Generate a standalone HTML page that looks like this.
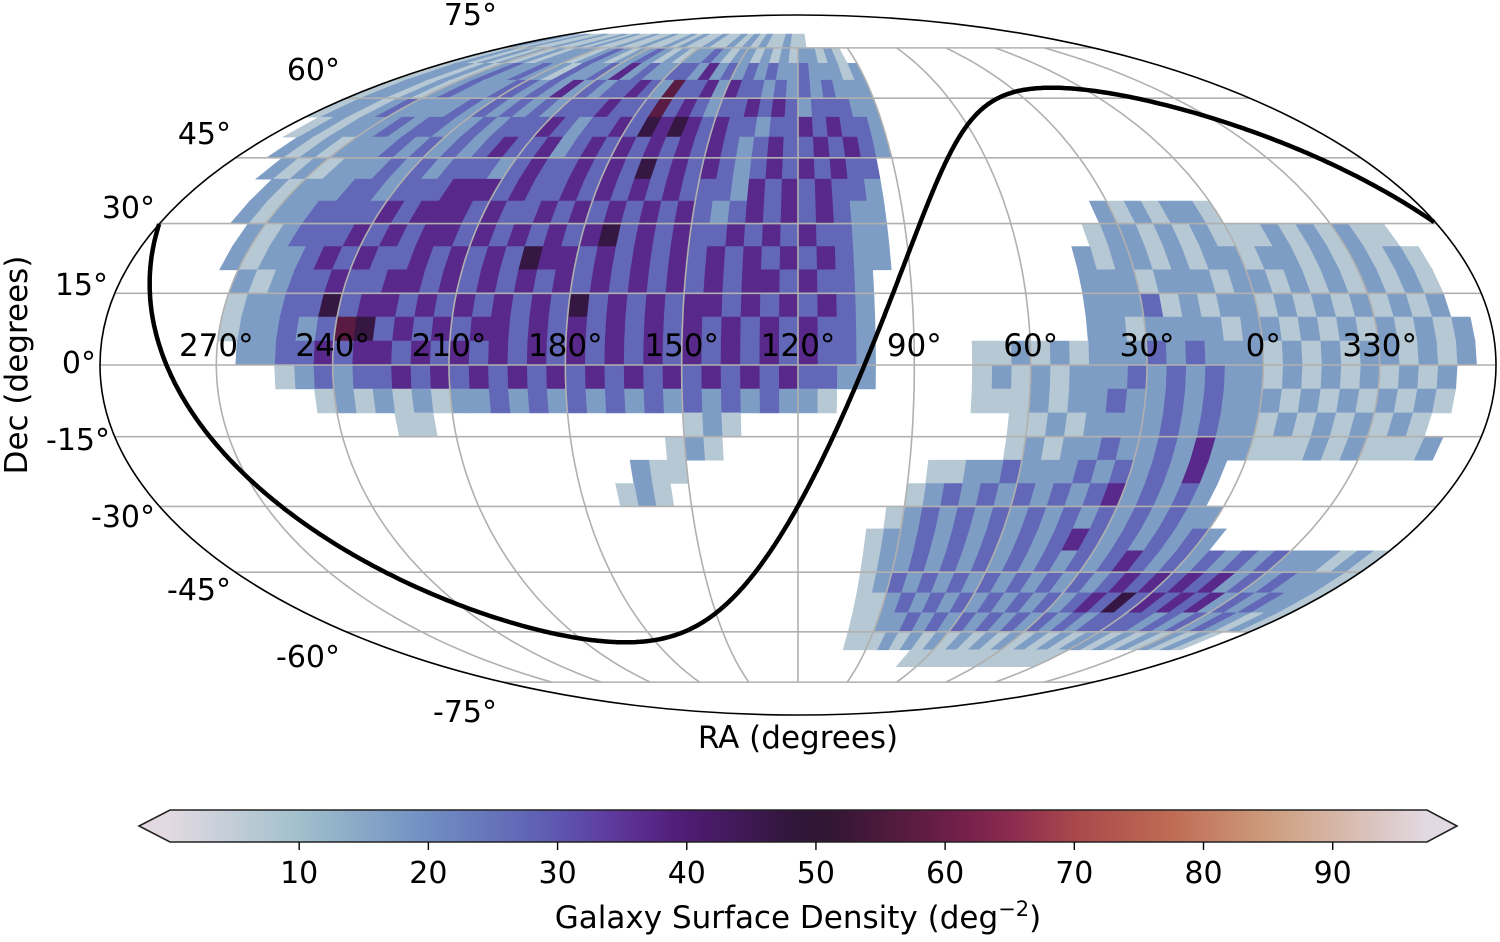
<!DOCTYPE html>
<html>
<head>
<meta charset="utf-8">
<style>
html,body{margin:0;padding:0;background:#fff;}
body{width:1500px;height:937px;overflow:hidden;font-family:"Liberation Sans","DejaVu Sans",sans-serif;}
svg text{font-family:"DejaVu Sans","Liberation Sans",sans-serif;fill:#000;}
</style>
</head>
<body>
<svg id="chart" width="1500" height="937" viewBox="0 0 1500 937" xmlns="http://www.w3.org/2000/svg">
  <defs>
    <clipPath id="ellclip"><ellipse cx="798" cy="365" rx="698" ry="350"/></clipPath>
    <linearGradient id="cbgrad" x1="0" x2="1" y1="0" y2="0"></linearGradient>
  </defs>
  <g id="cells" clip-path="url(#ellclip)"></g>
  <g id="grid" clip-path="url(#ellclip)"></g>
  <path id="galplane" fill="none" stroke="#000" stroke-width="4.5"/>
  <ellipse cx="798" cy="365" rx="698" ry="350" fill="none" stroke="#000" stroke-width="1.6"/>
  <g id="ralabels" font-size="31"></g>
  <g id="declabels" font-size="30"></g>
  <text x="798" y="748" text-anchor="middle" font-size="31">RA (degrees)</text>
  <text transform="translate(27,365) rotate(-90)" text-anchor="middle" font-size="31">Dec (degrees)</text>
  <g id="colorbar"></g>
  <text x="798" y="928" text-anchor="middle" font-size="31">Galaxy Surface Density (deg<tspan dy="-12" font-size="21">−2</tspan><tspan dy="12">)</tspan></text>
</svg>
<script>
// ---------- data ----------
const raStep = 5;          // RA cell width (deg)
const decStep = 5;         // Dec cell height (deg)
const decCenters = [77.5,72.5,67.5,62.5,57.5,52.5,47.5,42.5,37.5,32.5,27.5,22.5,17.5,12.5,7.5,2.5,-2.5,-7.5,-12.5,-17.5,-22.5,-27.5,-32.5,-37.5,-42.5,-47.5,-52.5,-57.5,-62.5,-67.5];
// one char per RA cell (RA 0..360), '.' = no data, digit d = density level (~10*d deg^-2)
const D = n => '.'.repeat(n);
const densityRows = [
 D(23)+"1121121212"+"1121121211"+"2112112121"+"1211212"+D(12),
 D(19)+"1212212121"+"2212322121"+"2322123212"+"2212121212"+"1"+D(12),
 D(18)+"2122232232"+"3232423322"+"3242322312"+"2322321212"+"21"+D(12),
 D(18)+"2223232323"+"3424336234"+"3323242323"+"3222321212"+"21"+D(12),
 D(18)+"2233323434"+"3323436333"+"4333232323"+"2322223212"+"21"+D(12),
 D(18)+"2334343323"+"3434545343"+"3234333232"+"2332322212"+"1"+D(13),
 D(18)+"2343433432"+"3434343434"+"3243343232"+"3232221212"+D(14),
 D(19)+"3343434323"+"4343534343"+"3432333232"+"32221212"+D(15),
 D(19)+"2334343423"+"3343434343"+"3434443332"+"3322212"+D(16),
 "1221212"+D(12)+"2234343432"+"3434343434"+"3343444343"+"3332212"+D(16),
 "12121221"+D(11)+"2233434343"+"3434354343"+"4343443434"+"333212"+D(8)+"112121211",
 "221212212"+D(10)+"2234343434"+"3434343445"+"3434343343"+"432212"+D(7)+"1212121221",
 "212221222"+D(11)+"2334344343"+"4343434343"+"4343443343"+"3212"+D(8)+"1212121212",
 "221213222"+D(11)+"2343434344"+"3434353434"+"3434344353"+"3221"+D(8)+"2121212121",
 "212222122"+D(11)+"2334343434"+"3434343434"+"4343435632"+"3221"+D(7)+"21212121212",
 "222323222121211"+D(5)+"2334343434"+"3434343434"+"3434344343"+"322"+D(8)+"21212212121",
 "223232322212121"+D(5)+"2233434343"+"4343434343"+"4343433232"+"1"+D(11)+"2121212121",
 "223232232212111"+D(7)+"1223232323"+"2323232322"+"1212121"+D(13)+"1212121212",
 "2232322221211"+D(14)+"121"+D(13)+"11"+D(18)+"121212121",
 "2242322322121"+D(15)+"121"+D(31)+"2111212111",
 D(1)+"2423232322232211"+D(13)+"112"+D(39),
 D(1)+"23232432323232321"+D(13)+"121"+D(38),
 "2232323232323232321"+D(53),
 "32323234323232323221"+D(51)+"2",
 "32343232323232323221"+D(40)+"121222323232",
 "43432323232323232321"+D(40)+"122232324343",
 "35343232323232323211"+D(40)+"122323243434",
 "33232323232323232211"+D(40)+"121232323233",
 "21212121212121212111"+D(42)+"1212121212",
 "11111111111111"+D(58)
];
const raTickValues = [270,240,210,180,150,120,90,60,30,0,330];
const decTickValues = [75,60,45,30,15,0,-15,-30,-45,-60,-75];
const cbTickValues = [10,20,30,40,50,60,70,80,90];
const cbMin = 0, cbMax = 97.3;
// colormap stops (twilight-like)
const cmapPos = [0,10,20,30,35,40,50,60,65,70,78,86,97.3];
const cmapCol = ["#e2d9e2","#a1c0cc","#6f8ec2","#5d58b2","#5e3399","#4f1b73","#2b1530","#6c1d48","#8b2a50","#a9484b","#c06e56","#cfa283","#e2d9e2"];

// ---------- projection ----------
const CX=798, CY=365, A=698, B=350, RA0=120;
function theta(dec){
  const phi=dec*Math.PI/180;
  if(Math.abs(dec)>=90) return Math.sign(dec)*Math.PI/2;
  let t=phi; const k=Math.PI*Math.sin(phi);
  for(let i=0;i<50;i++){const f=2*t+Math.sin(2*t)-k;const fp=2+2*Math.cos(2*t);if(Math.abs(fp)<1e-9)break;t-=f/fp;if(Math.abs(f)<1e-10)break;}
  return t;
}
function wrapLam(ra){let l=ra-RA0;while(l>180)l-=360;while(l<-180)l+=360;return l;}
function projLam(lam,dec){const t=theta(dec);return [CX-A*(lam/180)*Math.cos(t), CY-B*Math.sin(t)];}
function proj(ra,dec){return projLam(wrapLam(ra),dec);}

function hexToRgb(h){return [parseInt(h.substr(1,2),16),parseInt(h.substr(3,2),16),parseInt(h.substr(5,2),16)];}
function cmap(v){
  v=Math.max(cmapPos[0],Math.min(cmapPos[cmapPos.length-1],v));
  for(let i=0;i<cmapPos.length-1;i++){
    if(v<=cmapPos[i+1]){const f=(v-cmapPos[i])/(cmapPos[i+1]-cmapPos[i]);const a=hexToRgb(cmapCol[i]),b=hexToRgb(cmapCol[i+1]);
      return "rgb("+a.map((c,j)=>Math.round(c+(b[j]-c)*f)).join(",")+")";}
  }
  return cmapCol[cmapCol.length-1];
}
const NS="http://www.w3.org/2000/svg";
function mk(tag,attrs,parent){const e=document.createElementNS(NS,tag);for(const k in attrs)e.setAttribute(k,attrs[k]);parent.appendChild(e);return e;}

// ---------- cells ----------
const cellsG=document.getElementById('cells');
densityRows.forEach((row,j)=>{
  const dc=decCenters[j];
  for(let i=0;i<row.length && i<72;i++){
    const ch=row[i]; if(ch==='.')continue;
    const val=parseInt(ch,10)*10-3;
    const lc=wrapLam(i*raStep+raStep/2);
    const pts=[];
    const d0=dc-decStep/2, d1=dc+decStep/2, l0=lc-raStep/2, l1=lc+raStep/2;
    [[l0,d0],[l1,d0],[l1,d1],[l0,d1]].forEach(p=>{const q=projLam(p[0],p[1]);pts.push(q[0].toFixed(1)+","+q[1].toFixed(1));});
    const poly=mk('polygon',{points:pts.join(" "),fill:cmap(val),stroke:cmap(val),'stroke-width':0.6},cellsG);
    
    
  }
});

// ---------- graticule ----------
const gridG=document.getElementById('grid');
for(let d=-75; d<=75; d+=15){
  const a=projLam(-180,d), b=projLam(180,d);
  const ln=mk('line',{x1:a[0],y1:a[1],x2:b[0],y2:b[1],stroke:'#b0b0b0','stroke-width':1.6},gridG);
  
  
}
for(let l=-150;l<=150;l+=30){
  let dstr="";
  for(let d=-75;d<=75;d+=1){const p=projLam(l,d);dstr+=(d===-75?"M":"L")+p[0].toFixed(1)+","+p[1].toFixed(1);}
  const pth=mk('path',{d:dstr,fill:'none',stroke:'#b0b0b0','stroke-width':1.6},gridG);
  
  
}

// ---------- galactic plane ----------
(function(){
  const dG=27.128*Math.PI/180, aG=192.859, lN=122.932;
  let dstr="", prevX=null;
  for(let l=0;l<=360;l+=0.5){
    const x=(lN-l)*Math.PI/180;
    const dec=Math.asin(Math.cos(dG)*Math.cos(x))*180/Math.PI;
    const ra=aG+Math.atan2(Math.sin(x),-Math.sin(dG)*Math.cos(x))*180/Math.PI;
    const p=proj(ra,dec);
    if(prevX===null||Math.abs(p[0]-prevX)>300) dstr+="M"; else dstr+="L";
    dstr+=p[0].toFixed(1)+","+p[1].toFixed(1);
    prevX=p[0];
  }
  document.getElementById('galplane').setAttribute('d',dstr);
})();

// ---------- tick labels ----------
const raG=document.getElementById('ralabels');
raTickValues.forEach(v=>{
  const p=proj(v,0);
  const t=mk('text',{x:p[0].toFixed(1),y:356,'text-anchor':'middle'},raG);
  t.textContent=v+"°";
  
  
});
const declabelPos={75:[497,25],60:[340,80],45:[231,144],30:[155,218],15:[108,295],0:[96,373],"-15":[110,450],"-30":[155,527],"-45":[231,600],"-60":[340,667],"-75":[497,722]};
const decG=document.getElementById('declabels');
decTickValues.forEach(v=>{
  const p=declabelPos[v];
  const t=mk('text',{x:p[0],y:p[1],'text-anchor':'end'},decG);
  t.textContent=v+"°";
  
  
});

// ---------- colorbar ----------
const grad=document.getElementById('cbgrad');
for(let k=0;k<=40;k++){const v=cbMin+(cbMax-cbMin)*k/40;mk('stop',{offset:(k/40).toFixed(3),'stop-color':cmap(v)},grad);}
const cbG=document.getElementById('colorbar');
const cbX0=170, cbX1=1427, cbY0=810, cbY1=842;
const cbx=v=>cbX0+(v-cbMin)/(cbMax-cbMin)*(cbX1-cbX0);
const lt=mk('polygon',{points:`${cbX0},${cbY0} 139,826 ${cbX0},${cbY1}`,fill:cmap(cbMin)},cbG);


const rt=mk('polygon',{points:`${cbX1},${cbY0} 1457,826 ${cbX1},${cbY1}`,fill:cmap(cbMax)},cbG);


const rb=mk('rect',{x:cbX0,y:cbY0,width:cbX1-cbX0,height:cbY1-cbY0,fill:'url(#cbgrad)'},cbG);


const ol=mk('polygon',{points:`${cbX0},${cbY0} ${cbX1},${cbY0} 1457,826 ${cbX1},${cbY1} ${cbX0},${cbY1} 139,826`,fill:'none',stroke:'#222','stroke-width':1.6},cbG);


cbTickValues.forEach(v=>{
  const x=cbx(v);
  const tk=mk('line',{x1:x,y1:cbY1,x2:x,y2:cbY1+8,stroke:'#000','stroke-width':1.4},cbG);
  
  
  const t=mk('text',{x:x.toFixed(1),y:883,'text-anchor':'middle','font-size':30},cbG);
  t.textContent=String(v);
  
  
});
</script>
</body>
</html>
